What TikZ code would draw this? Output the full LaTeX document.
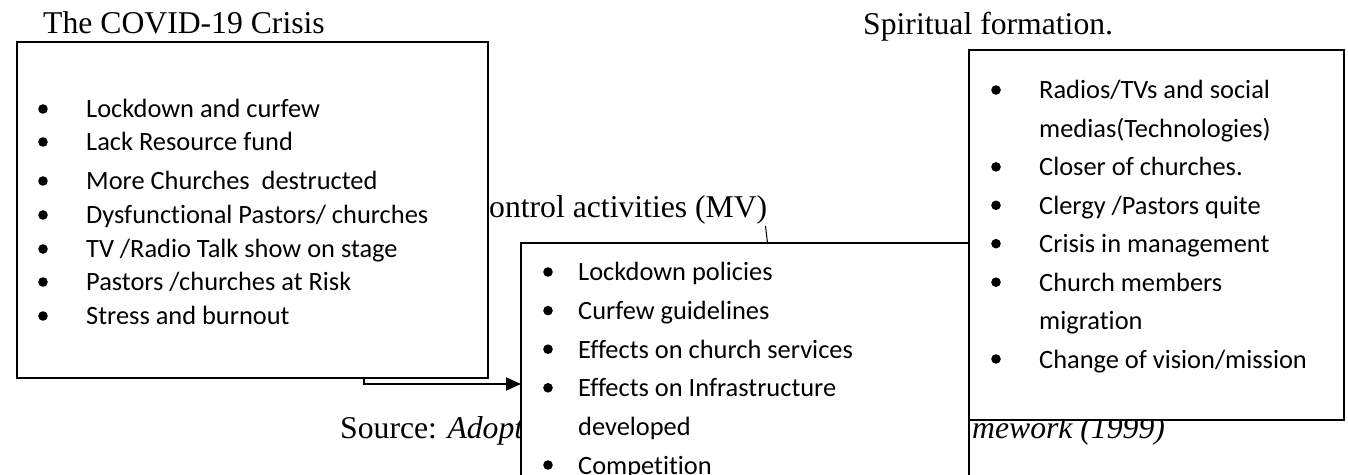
\documentclass[tikz,border=0pt]{standalone}
\usepackage{fontspec}
\setmainfont{Liberation Serif}
\newfontfamily\calib[Ligatures={NoCommon}]{Carlito}
\usetikzlibrary{arrows.meta}
\tikzset{
  boxnode/.style={draw=black, line width=1.6bp, fill=white, inner sep=0pt, outer sep=0pt, anchor=north west},
  titletext/.style={anchor=base west, inner sep=0pt, font=\fontsize{31.8}{36}\selectfont},
  itemtext/.style={anchor=base west, inner sep=0pt, font=\calib\fontsize{26.5}{30}\selectfont},
  bul/.style={fill=black},
  conn/.style={line width=2bp, -{Triangle[length=15bp,width=13bp]}},
  stub/.style={line width=1bp}
}
\newcommand\blt[5]{%
  \fill[bul] (#2,#4-9) circle[radius=4.8bp];
  \node[itemtext] (#1) at (#3,#4) {#5};}
\newcommand\cnt[4]{\node[itemtext] (#1) at (#2,#3) {#4};}
\begin{document}
\begin{tikzpicture}[x=1bp,y=-1bp]
\clip (0,0) rectangle (1348,475);
\fill[white] (0,0) rectangle (1348,475);
% titles
\node[titletext] (t1) at (43,34) {The COVID-19 Crisis};
\node[titletext] (t2) at (863,35) {Spiritual formation.};
\node[titletext] (t3) at (489,218) {ontrol activities (MV)};
\node[titletext] (t4) at (340,438) {Source: \textit{Adopt}};
\node[titletext] (t5) at (972,438) {\textit{mework (1999)}};
% boxes
\node[boxnode, minimum width=471bp, minimum height=336bp] (crisis) at (17,42) {};
\node[boxnode, minimum width=448bp, minimum height=300bp] (ctrl) at (521,243) {};
\node[boxnode, minimum width=375bp, minimum height=370bp] (spirit) at (969,50) {};
% left items
\blt{l1}{43}{86}{118}{Lockdown and curfew}
\blt{l2}{43}{86}{151}{Lack Resource fund}
\blt{l3}{43}{86}{190}{More Churches\ \ destructed}
\blt{l4}{43}{86}{224}{Dysfunctional Pastors/ churches}
\blt{l5}{43}{86}{258}{TV /Radio Talk show on stage}
\blt{l6}{43}{86}{291}{Pastors /churches at Risk}
\blt{l7}{43}{86}{325}{Stress and burnout}
% middle items
\blt{m1}{548}{578}{281}{Lockdown policies}
\blt{m2}{548}{578}{319.6}{Curfew guidelines}
\blt{m3}{548}{578}{358.2}{Effects on church services}
\blt{m4}{548}{578}{396.8}{Effects on Infrastructure}
\cnt{m5}{578}{435.4}{developed}
\blt{m6}{548}{578}{474}{Competition}
% right items
\blt{r1}{996}{1039}{99}{Radios/TVs and social}
\cnt{r2}{1039}{137.4}{medias(Technologies)}
\blt{r3}{996}{1039}{175.9}{Closer of churches.}
\blt{r4}{996}{1039}{214.3}{Clergy /Pastors quite}
\blt{r5}{996}{1039}{252.7}{Crisis in management}
\blt{r6}{996}{1039}{291.2}{Church members}
\cnt{r7}{1039}{329.6}{migration}
\blt{r8}{996}{1039}{368}{Change of vision/mission}
% connectors
\coordinate (a1) at ([xshift=347bp]crisis.south west);
\coordinate (a2) at (0,384);
\draw[conn] (a1) |- (ctrl.west |- a2);
\coordinate (tk) at (765.5,226);
\draw[stub] (tk) -- ([xshift=2bp]tk |- ctrl.north);
\end{tikzpicture}
\end{document}
